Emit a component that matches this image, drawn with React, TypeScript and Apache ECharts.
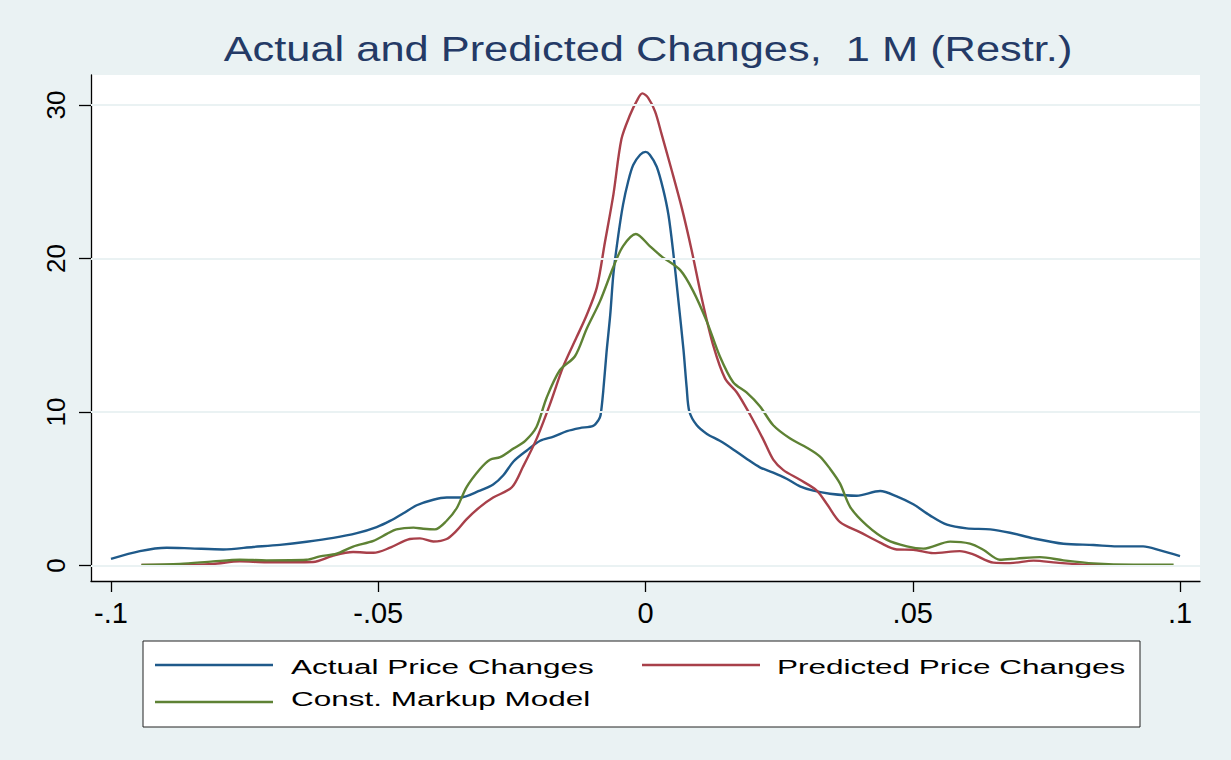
import React, { useEffect, useRef } from "react";
import * as echarts from "echarts";

const titleText = "Actual and Predicted Changes,  1 M (Restr.)";
const seriesNames = ["Actual Price Changes", "Predicted Price Changes", "Const. Markup Model"];
const seriesColors = ["#1f5a8a", "#a8404a", "#5e8234"];

const xTickValues = [-0.1, -0.05, 0, 0.05, 0.1];
const xTickLabels = ["-.1", "-.05", "0", ".05", ".1"];
const yTickValues = [0, 10, 20, 30];
const yTickLabels = ["0", "10", "20", "30"];

const actualX = [-0.1, -0.0946, -0.0896, -0.0852, -0.079, -0.0734, -0.0684, -0.0634, -0.0584, -0.054, -0.0503, -0.0478, -0.0453, -0.0428, -0.0397, -0.0372, -0.0347, -0.031, -0.0285, -0.0266, -0.0247, -0.0222, -0.0197, -0.0172, -0.0147, -0.0123, -0.0098, -0.0088, -0.0084, -0.0079, -0.0073, -0.0066, -0.006, -0.0051, -0.0042, -0.0032, -0.0023, -0.001, 0, 0.0008, 0.0021, 0.0033, 0.0043, 0.0052, 0.0061, 0.0071, 0.0077, 0.0082, 0.0096, 0.0115, 0.0139, 0.0164, 0.0189, 0.0214, 0.0239, 0.0264, 0.0289, 0.0314, 0.0345, 0.0395, 0.0439, 0.047, 0.0501, 0.0532, 0.0564, 0.0601, 0.0645, 0.0682, 0.0726, 0.0782, 0.0838, 0.0882, 0.0931, 0.0963, 0.1];
const actualY = [0.42, 0.93, 1.15, 1.11, 1.04, 1.2, 1.34, 1.54, 1.79, 2.1, 2.5, 2.9, 3.4, 3.92, 4.28, 4.42, 4.42, 4.87, 5.27, 5.87, 6.77, 7.49, 8.12, 8.39, 8.75, 8.95, 9.09, 9.47, 9.8, 11.38, 13.85, 16.32, 19.01, 21.49, 23.51, 25.08, 26.09, 26.76, 26.95, 26.76, 25.98, 24.52, 22.83, 20.37, 17.44, 14.07, 11.6, 10.03, 9.13, 8.57, 8.12, 7.56, 6.95, 6.39, 6.05, 5.65, 5.15, 4.87, 4.67, 4.54, 4.85, 4.5, 3.98, 3.26, 2.65, 2.41, 2.35, 2.13, 1.76, 1.41, 1.33, 1.24, 1.24, 0.98, 0.61];

const predictedX = [-0.0943, -0.0871, -0.0809, -0.0759, -0.0709, -0.0622, -0.0584, -0.0547, -0.0509, -0.0478, -0.0441, -0.0422, -0.0397, -0.0372, -0.0353, -0.0335, -0.031, -0.0285, -0.025, -0.0229, -0.0204, -0.0179, -0.0154, -0.0129, -0.011, -0.0091, -0.0076, -0.006, -0.0045, -0.0029, -0.0016, -0.0006, 0.0005, 0.0018, 0.003, 0.0049, 0.0068, 0.0086, 0.0105, 0.0127, 0.0149, 0.0171, 0.0196, 0.022, 0.0239, 0.0258, 0.0289, 0.032, 0.0339, 0.0364, 0.0401, 0.0439, 0.047, 0.0501, 0.0538, 0.0588, 0.0613, 0.0651, 0.0682, 0.0726, 0.0769, 0.0819, 0.0882, 0.0938];
const predictedY = [0.03, 0.03, 0.1, 0.26, 0.2, 0.22, 0.64, 0.87, 0.82, 1.15, 1.72, 1.76, 1.56, 1.72, 2.28, 3.0, 3.8, 4.42, 5.09, 6.44, 8.23, 10.48, 12.95, 14.86, 16.32, 18.12, 21.04, 24.18, 27.78, 29.35, 30.29, 30.76, 30.47, 29.57, 28.12, 25.75, 23.28, 20.59, 17.44, 14.3, 12.17, 11.27, 9.8, 8.23, 6.89, 6.21, 5.58, 4.89, 4.02, 2.82, 2.17, 1.48, 1.04, 1.02, 0.8, 0.93, 0.72, 0.18, 0.15, 0.31, 0.18, 0.05, 0, 0];

const markupX = [-0.0943, -0.0871, -0.0809, -0.0759, -0.0709, -0.0634, -0.0609, -0.0578, -0.0547, -0.0509, -0.0484, -0.0466, -0.0434, -0.0416, -0.0394, -0.0372, -0.0353, -0.0335, -0.031, -0.0291, -0.0272, -0.0247, -0.0225, -0.0204, -0.0185, -0.016, -0.0132, -0.011, -0.0085, -0.006, -0.0042, -0.0018, 0.0008, 0.003, 0.0065, 0.0089, 0.0115, 0.0139, 0.0164, 0.0189, 0.0214, 0.0239, 0.027, 0.0302, 0.0326, 0.0345, 0.0364, 0.0383, 0.0414, 0.0451, 0.0489, 0.052, 0.057, 0.0607, 0.0632, 0.0663, 0.0694, 0.0738, 0.0782, 0.0838, 0.0913, 0.0988];
const markupY = [0.03, 0.1, 0.26, 0.37, 0.33, 0.37, 0.59, 0.76, 1.23, 1.6, 2.05, 2.35, 2.46, 2.39, 2.35, 2.91, 3.74, 5.09, 6.27, 6.89, 7.05, 7.61, 8.12, 9.02, 10.93, 12.73, 13.63, 15.42, 17.22, 19.46, 20.81, 21.6, 20.81, 20.14, 19.24, 17.89, 15.87, 13.63, 11.94, 11.27, 10.37, 9.13, 8.28, 7.67, 7.11, 6.31, 5.33, 3.8, 2.61, 1.68, 1.24, 1.09, 1.55, 1.42, 1.02, 0.37, 0.44, 0.54, 0.33, 0.13, 0.05, 0.05];

const FONT = "'Liberation Sans', Arial, sans-serif";
const BG = "#eaf2f3";

const pairs = (xs: number[], ys: number[]) => xs.map((x, i) => [x, ys[i]]);

const labelFor = (vals: number[], labels: string[]) => (v: number) => {
  const i = vals.findIndex((t) => Math.abs(t - v) < 1e-9);
  return i >= 0 ? labels[i] : "";
};

export default function App() {
  const ref = useRef<HTMLDivElement>(null);

  useEffect(() => {
    if (!ref.current) return;
    const chart = echarts.init(ref.current, undefined, { renderer: "svg" });

    const lineSeries = [
      { name: seriesNames[0], data: pairs(actualX, actualY), color: seriesColors[0] },
      { name: seriesNames[1], data: pairs(predictedX, predictedY), color: seriesColors[1] },
      { name: seriesNames[2], data: pairs(markupX, markupY), color: seriesColors[2] },
    ].map((s) => ({
      type: "line",
      name: s.name,
      data: s.data,
      z: 3,
      smooth: 0.3,
      showSymbol: false,
      symbol: "none",
      silent: true,
      lineStyle: { color: s.color, width: 2.4 },
      itemStyle: { color: s.color },
    }));

    const legendRow1 = 666;
    const legendRow2 = 701;
    const legendFont = 21;
    const legendTextScale = 1.5;

    chart.setOption({
      animation: false,
      backgroundColor: BG,
      grid: {
        left: 91,
        right: 31,
        top: 75,
        bottom: 179,
        show: true,
        backgroundColor: "#ffffff",
        borderWidth: 0,
      },
      xAxis: {
        type: "value",
        min: -0.10374,
        max: 0.10374,
        axisLine: { show: true, onZero: false, lineStyle: { color: "#000", width: 1.3 } },
        axisTick: { show: true, customValues: xTickValues, length: 11, lineStyle: { color: "#000", width: 1.3 } },
        axisLabel: {
          customValues: xTickValues,
          formatter: labelFor(xTickValues, xTickLabels),
          fontSize: 29,
          color: "#000",
          fontFamily: FONT,
          margin: 17,
        },
        splitLine: { show: false },
      },
      yAxis: {
        type: "value",
        min: -1.017,
        max: 31.957,
        axisLine: { show: true, onZero: false, lineStyle: { color: "#000", width: 1.3 } },
        axisTick: { show: true, customValues: yTickValues, length: 12, lineStyle: { color: "#000", width: 1.3 } },
        axisLabel: {
          customValues: yTickValues,
          formatter: labelFor(yTickValues, yTickLabels),
          rotate: 90,
          fontSize: 26,
          color: "#000",
          fontFamily: FONT,
          margin: 22,
        },
        splitLine: { show: false },
      },
      series: [
        {
          type: "line",
          name: "grid",
          data: [],
          z: 1,
          silent: true,
          markLine: {
            silent: true,
            symbol: ["none", "none"],
            label: { show: false },
            lineStyle: { color: BG, width: 2, type: "solid" },
            emphasis: { disabled: true },
            data: yTickValues.map((v) => ({ yAxis: v })),
          },
        },
        ...lineSeries,
      ],
      graphic: [
        {
          type: "text",
          x: 648,
          y: 49,
          scaleX: 1.24,
          style: {
            text: titleText,
            fontSize: 35,
            fontFamily: FONT,
            fill: "#243a66",
            align: "center",
            verticalAlign: "middle",
          },
        },
        {
          type: "rect",
          shape: { x: 143, y: 641, width: 997, height: 86 },
          style: { fill: "#ffffff", stroke: "#222", lineWidth: 1 },
        },
        {
          type: "line",
          shape: { x1: 155, y1: legendRow1 - 1, x2: 273, y2: legendRow1 - 1 },
          style: { stroke: seriesColors[0], lineWidth: 2.4 },
        },
        {
          type: "line",
          shape: { x1: 642, y1: legendRow1 - 1, x2: 760, y2: legendRow1 - 1 },
          style: { stroke: seriesColors[1], lineWidth: 2.4 },
        },
        {
          type: "line",
          shape: { x1: 155, y1: legendRow2 + 1, x2: 273, y2: legendRow2 + 1 },
          style: { stroke: seriesColors[2], lineWidth: 2.4 },
        },
        {
          type: "text",
          x: 291,
          y: legendRow1 + 1,
          scaleX: legendTextScale,
          style: { text: seriesNames[0], fontSize: legendFont, fontFamily: FONT, fill: "#000", align: "left", verticalAlign: "middle" },
        },
        {
          type: "text",
          x: 777,
          y: legendRow1 + 1,
          scaleX: legendTextScale,
          style: { text: seriesNames[1], fontSize: legendFont, fontFamily: FONT, fill: "#000", align: "left", verticalAlign: "middle" },
        },
        {
          type: "text",
          x: 291,
          y: legendRow2 - 2,
          scaleX: legendTextScale,
          style: { text: seriesNames[2], fontSize: legendFont, fontFamily: FONT, fill: "#000", align: "left", verticalAlign: "middle" },
        },
      ],
    });

    return () => chart.dispose();
  }, []);

  return (
    <div
      ref={ref}
      style={{ position: "absolute", left: 0, top: 0, width: 1231, height: 760 }}
    />
  );
}
